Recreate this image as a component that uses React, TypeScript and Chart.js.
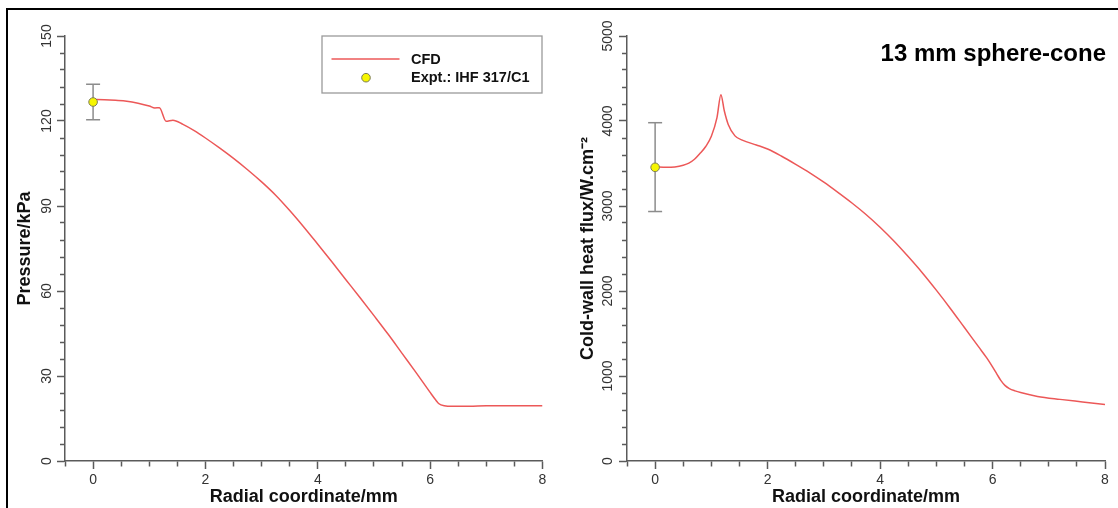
import React, { useEffect, useRef } from 'react';
import { Chart, registerables } from 'chart.js';

Chart.register(...registerables);

// ---------------- data ----------------
const radialPressure = [0, 0.2, 0.4, 0.6, 0.8, 1.0, 1.1, 1.18, 1.3, 1.42, 1.6, 1.8, 2.0, 2.25, 2.5, 2.75, 3.0, 3.25, 3.5, 3.75, 4.0, 4.25, 4.5, 4.75, 5.0, 5.25, 5.5, 5.75, 6.0, 6.1, 6.15, 6.25, 6.4, 6.7, 7.0, 7.5, 8.0];
const pressureCfd = [127.6, 127.5, 127.3, 127.0, 126.3, 125.3, 124.6, 124.7, 119.9, 120.3, 118.8, 116.6, 114.0, 110.5, 106.8, 102.8, 98.5, 93.8, 88.4, 82.6, 76.5, 70.3, 64.0, 57.7, 51.3, 44.8, 38.0, 31.2, 24.2, 21.5, 20.3, 19.5, 19.3, 19.3, 19.5, 19.5, 19.5];

const radialHeat = [0, 0.2, 0.35, 0.5, 0.6, 0.7, 0.8, 0.9, 1.0, 1.1, 1.17, 1.23, 1.3, 1.42, 1.55, 1.8, 2.0, 2.25, 2.5, 2.75, 3.0, 3.25, 3.5, 3.75, 4.0, 4.25, 4.5, 4.75, 5.0, 5.25, 5.5, 5.75, 5.9, 6.0, 6.08, 6.15, 6.22, 6.3, 6.4, 6.5, 6.8, 7.2, 7.6, 8.0];
const heatFluxCfd = [3460, 3455, 3460, 3480, 3505, 3550, 3620, 3700, 3820, 4040, 4310, 4120, 3960, 3825, 3775, 3718, 3670, 3585, 3490, 3390, 3280, 3160, 3035, 2900, 2750, 2585, 2405, 2215, 2010, 1795, 1570, 1345, 1210, 1108, 1020, 945, 890, 852, 825, 805, 760, 725, 695, 665];

const exptRadial = [0];
const exptPressure = [126.7];
const exptPressureLow = [120.4];
const exptPressureHigh = [133.0];
const exptHeatFlux = [3455];
const exptHeatFluxLow = [2935];
const exptHeatFluxHigh = [3980];

const xMin = -0.5;
const xMax = 8;
const xMinorStep = 0.5;
const xMajorStep = 2;
const pressureMax = 150;
const pressureMinorStep = 6;
const pressureMajorStep = 30;
const heatMax = 5000;
const heatMinorStep = 200;
const heatMajorStep = 1000;

const cfdLabel = 'CFD';
const exptLabel = 'Expt.: IHF 317/C1';
const panelTitle = '13 mm sphere-cone';
const xTitle = 'Radial coordinate/mm';
const pressureTitle = 'Pressure/kPa';
const heatTitle = 'Cold-wall heat flux/W.cm\u207B\u00B2';

// ---------------- styles ----------------
const FONT = "'Liberation Sans', Arial, Helvetica, sans-serif";
const CFD_COLOR = 'rgb(236, 88, 88)';
const ERR_COLOR = '#8c8c8c';
const AXIS_COLOR = '#5a5a5a';
const DOT_FILL = '#f6f600';
const DOT_BORDER = '#7d7d55';

const isMultiple = (v: number, step: number) => Math.abs(v / step - Math.round(v / step)) < 1e-6;

const boxLegendPlugin = {
  id: 'boxLegend',
  afterDatasetsDraw(chart: any, _args: any, opts: any) {
    if (!opts || !opts.display) return;
    const { ctx, chartArea } = chart;
    const items = chart.data.datasets.filter((d: any) => d.label);
    const w = opts.width;
    const h = opts.height;
    const left = chartArea.right - w;
    const top = chartArea.top - 0.5;
    ctx.save();
    ctx.fillStyle = '#ffffff';
    ctx.fillRect(left, top, w, h);
    ctx.strokeStyle = '#9a9a9a';
    ctx.lineWidth = 1.3;
    ctx.strokeRect(left + 0.5, top + 0.5, w - 1, h - 1);
    items.forEach((d: any, i: number) => {
      const y = top + 23.5 + i * 18.7;
      if (d.showLine) {
        ctx.strokeStyle = d.borderColor;
        ctx.lineWidth = d.borderWidth;
        ctx.beginPath();
        ctx.moveTo(left + 10, y);
        ctx.lineTo(left + 78, y);
        ctx.stroke();
      } else {
        ctx.beginPath();
        ctx.arc(left + 44.5, y, 4.3, 0, Math.PI * 2);
        ctx.fillStyle = d.pointBackgroundColor;
        ctx.fill();
        ctx.strokeStyle = d.pointBorderColor;
        ctx.lineWidth = 1;
        ctx.stroke();
      }
      ctx.fillStyle = '#111';
      ctx.font = `bold 14.5px ${FONT}`;
      ctx.textAlign = 'left';
      ctx.textBaseline = 'middle';
      ctx.fillText(d.label, left + 89.5, y + 0.5);
    });
    ctx.restore();
  },
};

const panelTitlePlugin = {
  id: 'panelTitle',
  afterDraw(chart: any, _args: any, opts: any) {
    if (!opts || !opts.text) return;
    const { ctx, chartArea } = chart;
    ctx.save();
    ctx.fillStyle = '#000';
    ctx.font = `bold 24px ${FONT}`;
    ctx.textAlign = 'right';
    ctx.textBaseline = 'alphabetic';
    ctx.fillText(opts.text, chartArea.right + 1, chartArea.top + 25);
    ctx.restore();
  },
};

interface PanelSpec {
  xs: number[];
  ys: number[];
  ex: number[];
  ey: number[];
  eLow: number[];
  eHigh: number[];
  yMax: number;
  yMinor: number;
  yMajor: number;
  yTitle: string;
  yAxisWidth: number;
  yTickPadding: number;
  yTitlePad: number;
  rightPad: number;
  legend: boolean;
  title: string;
}

function buildConfig(p: PanelSpec): any {
  const makeTicks = (min: number, max: number, step: number) => (scale: any) => {
    const n = Math.round((max - min) / step);
    const t = [];
    for (let i = 0; i <= n; i++) t.push({ value: +(min + i * step).toFixed(6) });
    scale.ticks = t;
  };
  return {
    type: 'scatter',
    data: {
      datasets: [
        {
          label: cfdLabel,
          data: p.xs.map((x, i) => ({ x, y: p.ys[i] })),
          showLine: true,
          borderColor: CFD_COLOR,
          borderWidth: 1.5,
          pointRadius: 0,
          cubicInterpolationMode: 'monotone',
          order: 1,
        },
        {
          label: '',
          data: [
            { x: p.ex[0], y: p.eLow[0] },
            { x: p.ex[0], y: p.eHigh[0] },
          ],
          showLine: true,
          borderColor: ERR_COLOR,
          borderWidth: 1.5,
          pointStyle: 'line',
          pointRadius: 7,
          pointBorderColor: ERR_COLOR,
          pointBorderWidth: 1.5,
          order: 2,
        },
        {
          label: exptLabel,
          data: p.ex.map((x, i) => ({ x, y: p.ey[i] })),
          showLine: false,
          pointRadius: 4.3,
          pointBackgroundColor: DOT_FILL,
          pointBorderColor: DOT_BORDER,
          pointBorderWidth: 1,
          order: 0,
        },
      ],
    },
    options: {
      responsive: false,
      animation: false,
      events: [],
      layout: { padding: { left: 0, right: p.rightPad, top: 36, bottom: 0 } },
      plugins: {
        legend: { display: false },
        tooltip: { enabled: false },
        title: { display: false },
        boxLegend: { display: p.legend, width: 221, height: 58 },
        panelTitle: { text: p.title },
      },
      scales: {
        x: {
          type: 'linear',
          min: xMin,
          max: xMax,
          afterBuildTicks: makeTicks(xMin, xMax, xMinorStep),
          afterFit: (s: any) => {
            s.height = 47;
          },
          border: { display: true, color: AXIS_COLOR, width: 1.5 },
          grid: {
            drawOnChartArea: false,
            drawTicks: true,
            tickLength: 8,
            tickColor: AXIS_COLOR,
            tickWidth: 1.5,
            tickBorderDash: (ctx: any) => (ctx.tick && isMultiple(ctx.tick.value, xMajorStep) ? [] : [5, 100]),
          },
          ticks: {
            autoSkip: false,
            maxRotation: 0,
            padding: 2.5,
            color: '#333',
            font: { size: 14, family: FONT },
            callback: (v: any) => (isMultiple(Number(v), xMajorStep) ? String(Math.round(Number(v))) : ''),
          },
          title: {
            display: true,
            text: xTitle,
            color: '#111',
            font: { size: 18, weight: 'bold', family: FONT },
            padding: { top: 0, bottom: 0 },
          },
        },
        y: {
          type: 'linear',
          min: 0,
          max: p.yMax,
          afterBuildTicks: makeTicks(0, p.yMax, p.yMinor),
          afterFit: (s: any) => {
            s.width = p.yAxisWidth;
          },
          border: { display: true, color: AXIS_COLOR, width: 1.5 },
          grid: {
            drawOnChartArea: false,
            drawTicks: true,
            tickLength: 8,
            tickColor: AXIS_COLOR,
            tickWidth: 1.5,
            tickBorderDash: (ctx: any) => (ctx.tick && isMultiple(ctx.tick.value, p.yMajor) ? [] : [0, 3, 5, 100]),
          },
          ticks: {
            autoSkip: false,
            minRotation: 90,
            maxRotation: 90,
            crossAlign: 'center',
            padding: p.yTickPadding,
            color: '#333',
            font: { size: 14, family: FONT },
            callback: (v: any) => (isMultiple(Number(v), p.yMajor) ? String(Math.round(Number(v))) : ''),
          },
          title: {
            display: true,
            text: p.yTitle,
            color: '#111',
            font: { size: 18, weight: 'bold', family: FONT },
            padding: { top: p.yTitlePad, bottom: 0 },
          },
        },
      },
    },
    plugins: [boxLegendPlugin, panelTitlePlugin],
  };
}

function Panel({ spec, left, width }: { spec: PanelSpec; left: number; width: number }) {
  const ref = useRef<HTMLCanvasElement | null>(null);
  useEffect(() => {
    if (!ref.current) return;
    const chart = new Chart(ref.current, buildConfig(spec));
    return () => chart.destroy();
  }, []);
  return (
    <canvas
      ref={ref}
      width={width}
      height={508}
      style={{ position: 'absolute', left, top: 0, width, height: 508 }}
    />
  );
}

const pressureSpec: PanelSpec = {
  xs: radialPressure,
  ys: pressureCfd,
  ex: exptRadial,
  ey: exptPressure,
  eLow: exptPressureLow,
  eHigh: exptPressureHigh,
  yMax: pressureMax,
  yMinor: pressureMinorStep,
  yMajor: pressureMajorStep,
  yTitle: pressureTitle,
  yAxisWidth: 65,
  yTickPadding: -1.5,
  yTitlePad: 14.5,
  rightPad: 17.5,
  legend: true,
  title: '',
};

const heatSpec: PanelSpec = {
  xs: radialHeat,
  ys: heatFluxCfd,
  ex: exptRadial,
  ey: exptHeatFlux,
  eLow: exptHeatFluxLow,
  eHigh: exptHeatFluxHigh,
  yMax: heatMax,
  yMinor: heatMinorStep,
  yMajor: heatMajorStep,
  yTitle: heatTitle,
  yAxisWidth: 67,
  yTickPadding: -5,
  yTitlePad: 17.2,
  rightPad: 13,
  legend: false,
  title: panelTitle,
};

export default function App() {
  return (
    <div
      style={{
        position: 'fixed',
        left: 0,
        top: 0,
        width: 1118,
        height: 508,
        background: '#ffffff',
        overflow: 'hidden',
      }}
    >
      <div
        style={{
          position: 'absolute',
          left: 6,
          top: 8,
          width: 1200,
          height: 600,
          borderLeft: '2px solid #000',
          borderTop: '2px solid #000',
        }}
      />
      <Panel spec={pressureSpec} left={0} width={560} />
      <Panel spec={heatSpec} left={560} width={558} />
    </div>
  );
}
